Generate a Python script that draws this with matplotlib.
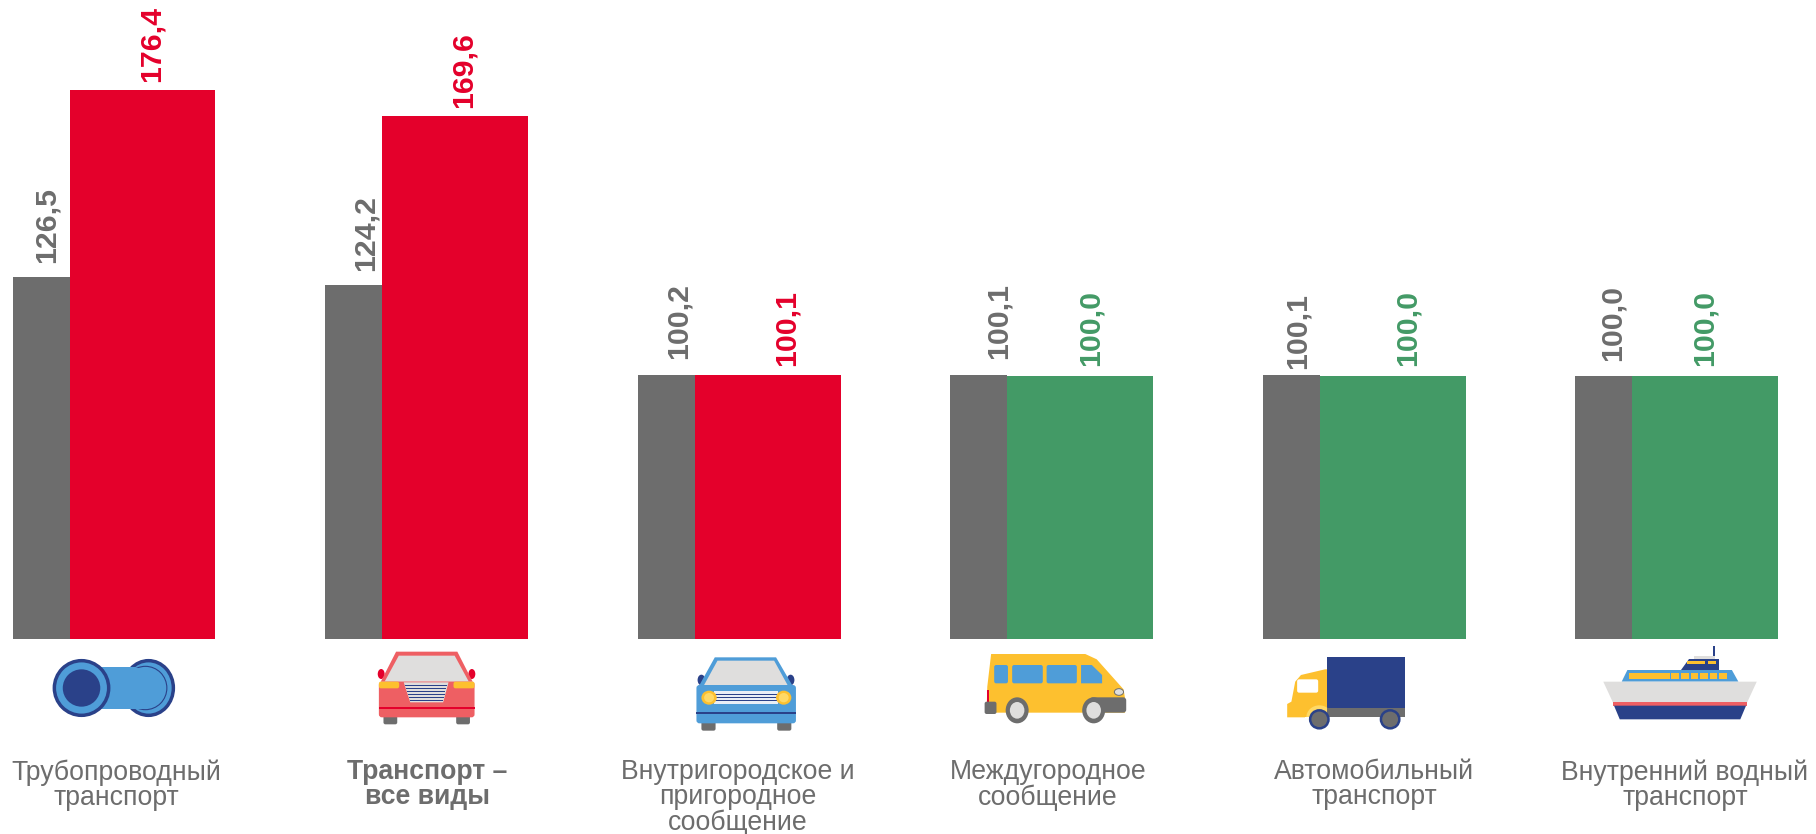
import numpy as np
import matplotlib
matplotlib.use("Agg")
import matplotlib.pyplot as plt
from matplotlib.patches import Ellipse, Polygon, Rectangle, FancyBboxPatch

plt.rcParams["font.family"] = ["Liberation Sans", "DejaVu Sans"]

categories = [
    "Трубопроводный\nтранспорт",
    "Транспорт –\nвсе виды",
    "Внутригородское и\nпригородное\nсообщение",
    "Междугородное\nсообщение",
    "Автомобильный\nтранспорт",
    "Внутренний водный\nтранспорт",
]
prev_values = [126.5, 124.2, 100.2, 100.1, 100.1, 100.0]
curr_values = [176.4, 169.6, 100.1, 100.0, 100.0, 100.0]

GRAY = "#6d6d6d"
RED = "#e4002b"
GREEN = "#439a66"
BLUE = "#4f9dd8"
NAVY = "#2a4189"
YELLOW = "#fdc02f"
LIGHT = "#dfdedd"
SALMON = "#ee5f63"

W, H = 1816, 834
BASE_PX = 638.5
STEP_PX = 312.5
LEFT_PX = 12.5
GRAY_W = 57 / STEP_PX
RED_W = 146 / STEP_PX

# label offsets from the bar centre / bar top, pixels
prev_dx = [5.5, 12, 13, 20, 7, 9]
curr_dx = [9, 9, 19, 11, 15, 0]
prev_dy = [14, 14, 16, 16, 6, 15]
curr_dy = [8, 8, 9, 10, 10, 10]
label_x = [116, 427.6, 737.8, 1048, 1374, 1685]

fig = plt.figure(figsize=(W / 100, H / 100), dpi=100)
ax = fig.add_axes([0, 1 - BASE_PX / H, 1, BASE_PX / H])
ax.set_xlim(-LEFT_PX / STEP_PX, (W - LEFT_PX) / STEP_PX)
ax.set_ylim(29.65, 200.6)
ax.axis("off")

x = np.arange(len(categories))
ax.bar(x, prev_values, width=GRAY_W, align="edge", color=GRAY)
curr_colors = [RED if v > 100 else GREEN for v in curr_values]
ax.bar(x + GRAY_W, curr_values, width=RED_W, align="edge", color=curr_colors)

for i in x:
    ax.annotate(
        f"{prev_values[i]:.1f}".replace(".", ","),
        (i + GRAY_W / 2, prev_values[i]),
        xytext=(prev_dx[i], prev_dy[i]),
        textcoords="offset pixels",
        rotation=90, ha="center", va="bottom",
        fontsize=21.8, fontweight="bold", color=GRAY,
    )
    ax.annotate(
        f"{curr_values[i]:.1f}".replace(".", ","),
        (i + GRAY_W + RED_W / 2, curr_values[i]),
        xytext=(curr_dx[i], curr_dy[i]),
        textcoords="offset pixels",
        rotation=90, ha="center", va="bottom",
        fontsize=21.8, fontweight="bold", color=curr_colors[i],
    )

# overlay in pixel space for the pictograms and the captions
ov = fig.add_axes([0, 0, 1, 1], facecolor="none")
ov.set_xlim(0, W)
ov.set_ylim(H, 0)
ov.axis("off")

for i, name in enumerate(categories):
    ov.text(
        label_x[i], 759, name, ha="center", va="top", fontsize=19.2,
        color=GRAY, linespacing=0.97, fontweight="bold" if i == 1 else "normal",
    )


def px(ox, pts):
    # crop coordinates -> picture pixels
    return [(ox + a / 2.613, 630 + b / 3) for a, b in pts]


def poly(ox, pts, color):
    ov.add_patch(Polygon(px(ox, pts), closed=True, fc=color, ec="none"))


def box(ox, x0, y0, x1, y1, color, r=0):
    (a, b), (c, d) = px(ox, [(x0, y0), (x1, y1)])
    if r:
        ov.add_patch(FancyBboxPatch((a + r, b + r), c - a - 2 * r, d - b - 2 * r,
                                    boxstyle=f"round,pad={r}", fc=color, ec="none"))
    else:
        ov.add_patch(Rectangle((a, b), c - a, d - b, fc=color, ec="none"))


def oval(ox, cx, cy, rx, ry, color, ec="none", lw=0):
    (a, b), = px(ox, [(cx, cy)])
    ov.add_patch(Ellipse((a, b), 2 * rx / 2.613, 2 * ry / 3, fc=color, ec=ec, lw=lw))


def draw_pipe(ox):
    oval(ox, 388, 174, 65, 82, BLUE, NAVY, 2.5)
    box(ox, 213, 112, 390, 238, BLUE)
    oval(ox, 380, 174, 56, 65, "none", NAVY, 0.8)
    box(ox, 290, 114, 380, 236, BLUE)
    oval(ox, 213, 174, 71, 82, BLUE, NAVY, 2.5)
    oval(ox, 213, 174, 49, 56, NAVY)


def draw_red_car(ox):
    for a in (1002, 1192):
        box(ox, a, 255, a + 36, 283, GRAY, 2)
    oval(ox, 996, 132, 9, 15, RED)
    oval(ox, 1233, 132, 9, 15, RED)
    poly(ox, [(1035, 65), (1195, 65), (1235, 155), (995, 155)], SALMON)
    poly(ox, [(1042, 77), (1188, 77), (1225, 155), (1005, 155)], LIGHT)
    box(ox, 990, 155, 1240, 262, SALMON, 3)
    box(ox, 990, 155, 1043, 175, YELLOW, 2)
    box(ox, 1185, 155, 1240, 175, YELLOW, 2)
    box(ox, 990, 230, 1240, 237, RED)
    poly(ox, [(1055, 157), (1172, 157), (1158, 217), (1072, 217)], LIGHT)
    for k in range(6):
        y = 165 + k * 9
        t = (y - 157) / 60
        box(ox, 1057 + 16 * t, y, 1170 - 14 * t, y + 4, NAVY)


def draw_blue_car(ox):
    for a in (265, 463):
        box(ox, a, 270, a + 37, 302, GRAY, 2)
    oval(ox, 265, 150, 10, 16, NAVY)
    oval(ox, 498, 150, 10, 16, NAVY)
    poly(ox, [(300, 82), (460, 82), (502, 165), (260, 165)], BLUE)
    poly(ox, [(307, 92), (455, 92), (490, 165), (272, 165)], LIGHT)
    box(ox, 252, 165, 512, 280, BLUE, 3)
    box(ox, 298, 184, 466, 222, "#e9eef6")
    for k in range(3):
        box(ox, 298, 192 + k * 9, 466, 196 + k * 9, NAVY)
    for a in (285, 480):
        oval(ox, a, 203, 20, 21, YELLOW)
        oval(ox, a, 203, 13, 14, "#ffd966")
    box(ox, 252, 245, 512, 252, NAVY)


def draw_bus(ox):
    poly(ox, [(1022, 72), (1268, 72), (1298, 88), (1368, 178), (1372, 205),
              (1372, 248), (1010, 248), (1012, 170)], YELLOW)
    for a, b in ((1030, 1066), (1077, 1157), (1167, 1246)):
        box(ox, a, 105, b, 160, BLUE, 2)
    poly(ox, [(1257, 105), (1285, 105), (1312, 135), (1312, 160), (1257, 160)], BLUE)
    box(ox, 1010, 180, 1016, 215, RED)
    oval(ox, 1356, 186, 12, 10, LIGHT, GRAY, 0.7)
    box(ox, 1005, 215, 1036, 252, GRAY, 2)
    box(ox, 1280, 202, 1375, 248, GRAY, 3)
    for a in (1090, 1290):
        oval(ox, a, 241, 30, 39, GRAY)
        oval(ox, a, 241, 19, 25, LIGHT)


def draw_truck(ox):
    poly(ox, [(285, 118), (222, 135), (207, 155), (197, 215), (186, 222),
              (186, 262), (292, 262), (292, 118)], YELLOW)
    box(ox, 212, 148, 267, 188, "white", 2)
    box(ox, 290, 82, 495, 233, NAVY)
    box(ox, 290, 233, 495, 262, GRAY)
    oval(ox, 270, 262, 34, 36, "#ffd966")
    box(ox, 232, 262, 310, 300, "white")
    box(ox, 290, 233, 495, 262, GRAY)
    for a in (270, 455):
        oval(ox, a, 268, 24, 27, GRAY, NAVY, 1.8)


def draw_ship(ox):
    box(ox, 1298, 47, 1303, 78, NAVY)
    box(ox, 1250, 78, 1305, 87, LIGHT)
    poly(ox, [(1235, 87), (1315, 87), (1315, 120), (1215, 120)], NAVY)
    box(ox, 1230, 94, 1278, 103, YELLOW)
    box(ox, 1286, 94, 1307, 103, YELLOW)
    poly(ox, [(1075, 120), (1348, 120), (1365, 155), (1060, 155)], BLUE)
    box(ox, 1080, 128, 1185, 146, YELLOW)
    for a in range(1190, 1330, 25):
        box(ox, a, 128, a + 20, 146, YELLOW)
    poly(ox, [(1012, 155), (1413, 155), (1388, 217), (1037, 217)], LIGHT)
    box(ox, 1037, 217, 1388, 227, SALMON)
    poly(ox, [(1040, 227), (1385, 227), (1370, 268), (1055, 268)], NAVY)


draw_pipe(0)
draw_red_car(0)
draw_blue_car(600)
draw_bus(600)
draw_truck(1216)
draw_ship(1216)

fig.savefig("out.png", dpi=100, facecolor="white")
